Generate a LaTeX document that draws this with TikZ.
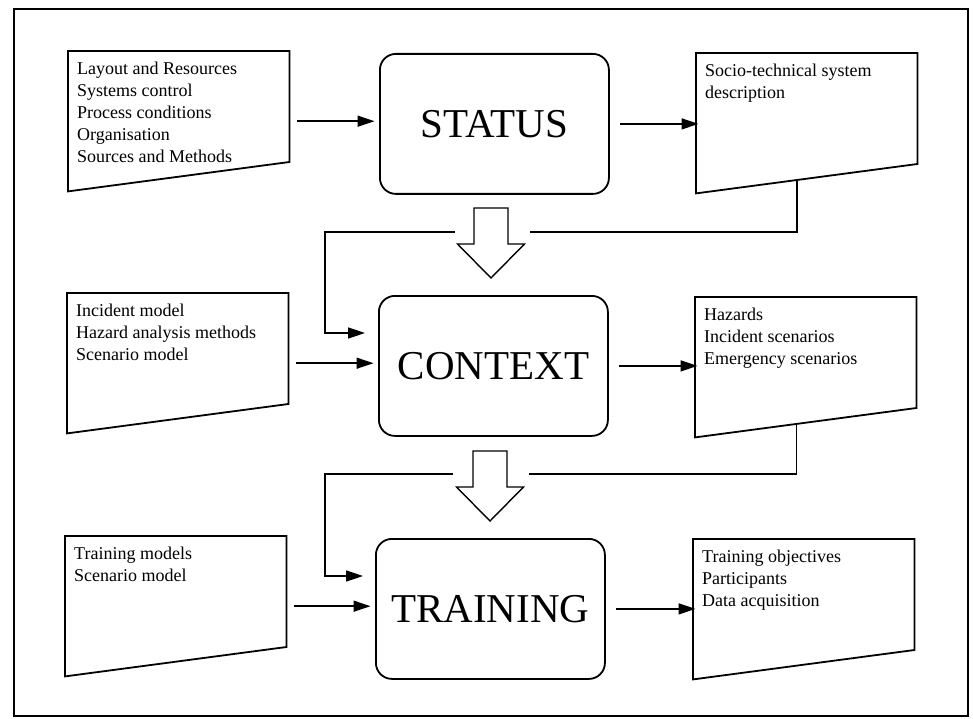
\documentclass[tikz,border=0pt]{standalone}
\usepackage{fontspec}
\setmainfont{Liberation Serif}
\usetikzlibrary{arrows.meta,calc}

% downward hollow block arrow: #1 = centre x, #2 = top y
\newcommand\hollowdown[2]{%
  \draw[line width=1.4pt, line join=miter, fill=white]
    (#1-17,#2) -- (#1+17,#2) -- (#1+17,#2+36) -- (#1+33.5,#2+36)
    -- (#1,#2+70) -- (#1-33.5,#2+36) -- (#1-17,#2+36) -- cycle;}

\begin{document}
\begin{tikzpicture}[x=1pt,y=-1pt,
  frame/.style={line width=1.8pt, line join=miter},
  docshape/.style={anchor=north west, minimum width=221pt, minimum height=140pt, inner sep=0pt},
  doctext/.style={anchor=north west, inner sep=0pt, align=left, font=\fontsize{18}{22}\selectfont},
  stage/.style={draw, line width=1.8pt, rounded corners=16pt, anchor=north west,
    minimum width=229pt, minimum height=140pt, inner sep=0pt, font=\fontsize{41}{49}\selectfont},
  conn/.style={line width=1.6pt, line join=miter, -{Triangle[length=17pt,width=11pt]}}
]
\useasboundingbox (0,0) rectangle (973,719);

% outer frame
\draw[line width=2pt] (14,9) rectangle (968,716);

% input documents
\node[docshape] (in1) at (68,51) {};
\node[docshape] (in2) at (67,293) {};
\node[docshape] (in3) at (65,536) {};
% output documents
\node[docshape] (out1) at (696,53) {};
\node[docshape] (out2) at (695,297) {};
\node[docshape] (out3) at (693,539) {};

\foreach \n in {in1,in2,in3,out1,out2,out3}{
  \coordinate (\n-cut) at ($(\n.north east)+(0,111)$);
  \draw[frame] (\n.north west) -- (\n.north east) -- (\n-cut) -- (\n.south west) -- cycle;
}

\node[doctext] (in1t) at ($(in1.north west)+(9,11)$)
  {Layout and Resources\\Systems control\\Process conditions\\Organisation\\Sources and Methods};
\node[doctext] (in2t) at ($(in2.north west)+(9,11)$)
  {Incident model\\Hazard analysis methods\\Scenario model};
\node[doctext] (in3t) at ($(in3.north west)+(9,11)$)
  {Training models\\Scenario model};
\node[doctext] (out1t) at ($(out1.north west)+(9,11)$)
  {Socio-technical system\\description};
\node[doctext] (out2t) at ($(out2.north west)+(9,11)$)
  {Hazards\\Incident scenarios\\Emergency scenarios};
\node[doctext] (out3t) at ($(out3.north west)+(9,11)$)
  {Training objectives\\Participants\\Data acquisition};

% stages
\node[stage] (status) at (379,53) {STATUS};
\node[stage] (context) at (378,295) {CONTEXT};
\node[stage] (training) at (375,538) {TRAINING};

% inputs into stages, stages into outputs
\foreach \a/\b/\c in {in1/status/out1, in2/context/out2, in3/training/out3}{
  \draw[conn, shorten >=12.5pt] ([xshift=8pt]\a.east) -- ([xshift=8pt]\a.east -| \b.west);
  \draw[conn, shorten >=8pt] ([xshift=10.5pt]\b.east) -- ([xshift=10.5pt]\b.east -| \c.west);
}

% feedback from outputs into the next stage
\coordinate (fb1s) at ($(out1.south west)!0.455!(out1-cut)$);
\coordinate (fb1b) at (325,232);
\coordinate (fb1e) at (365,333);
\draw[conn] (fb1s) |- (fb1b) |- (fb1e);

\coordinate (fb2s) at ($(out2.south west)!0.459!(out2-cut)$);
\coordinate (fb2b) at (325,474);
\coordinate (fb2e) at (363,576);
\draw[conn] (fb2s) |- (fb2b) |- (fb2e);

% clear the feedback lines around the block arrows
\fill[white] (455,224) rectangle (530,240);
\fill[white] (453,466) rectangle (529,482);

% block arrows between stages
\hollowdown{491}{208}
\hollowdown{490}{451}
\end{tikzpicture}
\end{document}
